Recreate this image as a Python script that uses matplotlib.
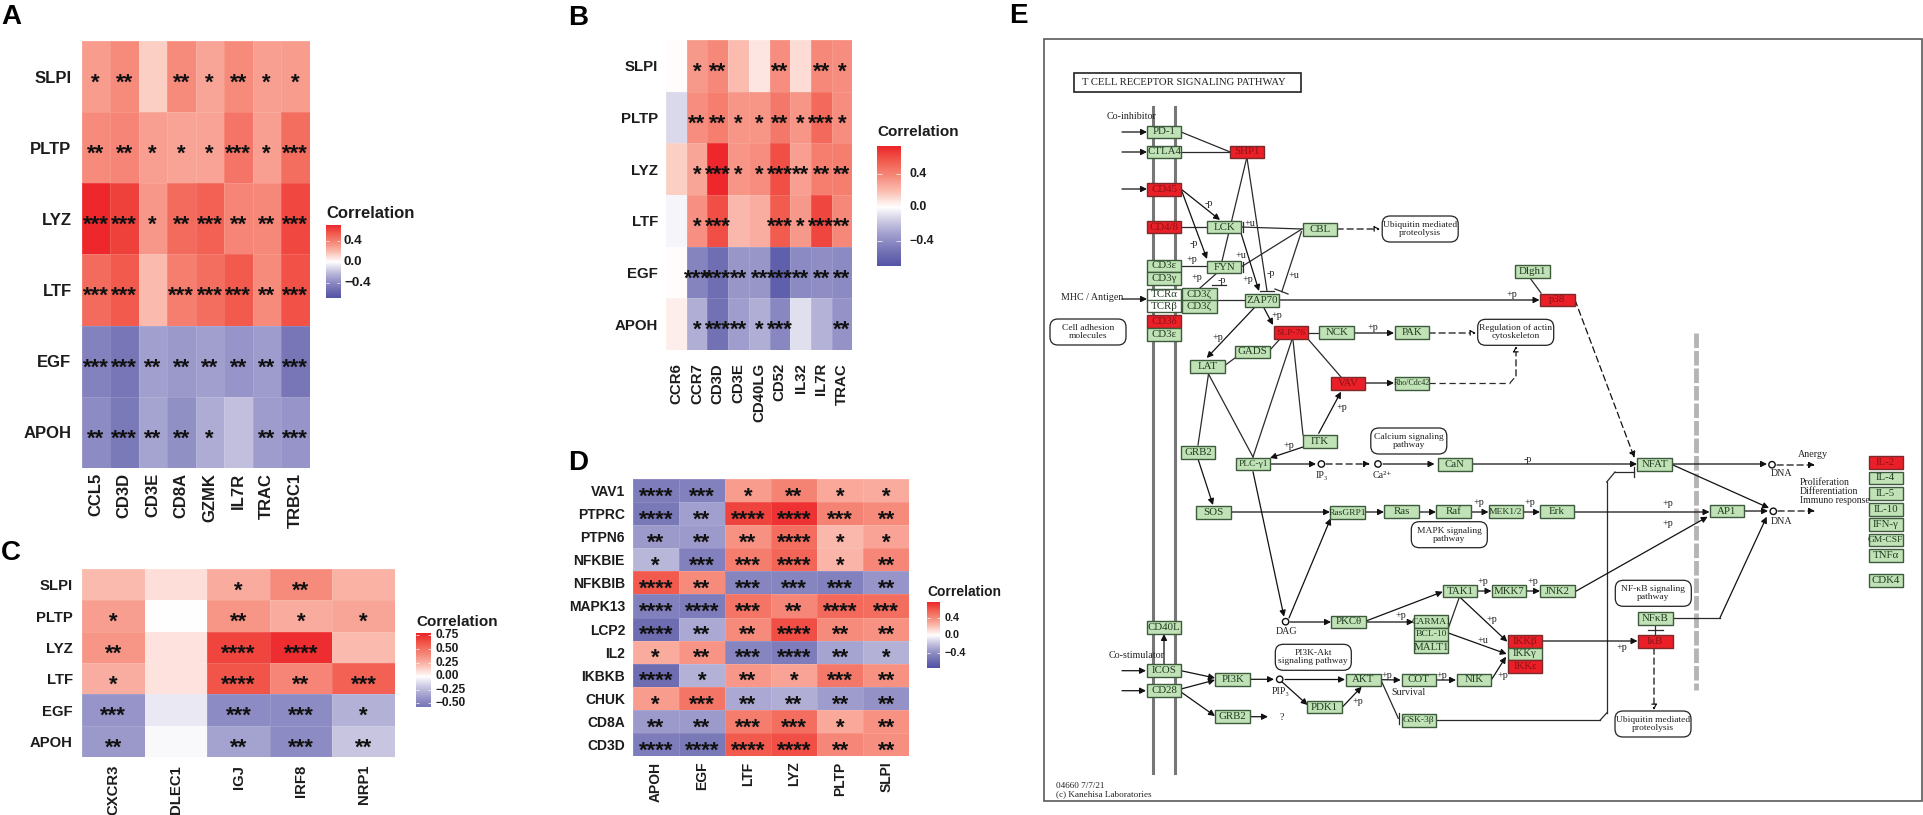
import numpy as np
import matplotlib
matplotlib.use("Agg")
import matplotlib.pyplot as plt
from matplotlib.colors import LinearSegmentedColormap, Normalize
from matplotlib.patches import FancyBboxPatch, Rectangle, Circle

W, H = 1923, 815

# ---- heatmap data (rows top to bottom) ----
a_rows = ["SLPI", "PLTP", "LYZ", "LTF", "EGF", "APOH"]
a_cols = ["CCL5", "CD3D", "CD3E", "CD8A", "GZMK", "IL7R", "TRAC", "TRBC1"]
a_vals = [[.30, .36, .14, .36, .27, .36, .29, .30],
          [.36, .38, .29, .28, .28, .44, .29, .47],
          [.70, .62, .32, .48, .52, .38, .37, .60],
          [.48, .54, .20, .41, .47, .54, .36, .57],
          [-.44, -.50, -.32, -.34, -.32, -.36, -.33, -.50],
          [-.40, -.48, -.30, -.38, -.27, -.20, -.33, -.36]]
a_stars = [[1, 2, 0, 2, 1, 2, 1, 1],
           [2, 2, 1, 1, 1, 3, 1, 3],
           [3, 3, 1, 2, 3, 2, 2, 3],
           [3, 3, 0, 3, 3, 3, 2, 3],
           [3, 3, 2, 2, 2, 2, 2, 3],
           [2, 3, 2, 2, 1, 0, 2, 3]]

b_rows = ["SLPI", "PLTP", "LYZ", "LTF", "EGF", "APOH"]
b_cols = ["CCR6", "CCR7", "CD3D", "CD3E", "CD40LG", "CD52", "IL32", "IL7R", "TRAC"]
b_vals = [[.01, .32, .38, .20, .07, .36, .10, .38, .36],
          [-.12, .36, .42, .33, .33, .44, .33, .50, .36],
          [.14, .28, .72, .33, .36, .60, .30, .42, .42],
          [-.03, .35, .60, .21, .25, .55, .32, .62, .38],
          [.01, -.45, -.55, -.36, -.36, -.64, -.42, -.40, -.42],
          [.05, -.27, -.54, -.33, -.27, -.43, -.10, -.25, -.38]]
b_stars = [[0, 1, 2, 0, 0, 2, 0, 2, 1],
           [0, 2, 2, 1, 1, 2, 1, 3, 1],
           [0, 1, 3, 1, 1, 3, 2, 2, 2],
           [0, 1, 3, 0, 0, 3, 1, 3, 2],
           [0, 3, 3, 2, 2, 3, 2, 2, 2],
           [0, 1, 3, 2, 1, 3, 0, 0, 2]]

c_rows = ["SLPI", "PLTP", "LYZ", "LTF", "EGF", "APOH"]
c_cols = ["CXCR3", "DLEC1", "IGJ", "IRF8", "NRP1"]
c_vals = [[.22, .10, .28, .40, .25],
          [.33, .00, .36, .28, .30],
          [.36, .09, .68, .76, .22],
          [.27, .09, .62, .42, .58],
          [-.40, -.08, -.45, -.45, -.28],
          [-.38, -.02, -.34, -.45, -.20]]
c_stars = [[0, 0, 1, 2, 0],
           [1, 0, 2, 1, 1],
           [2, 0, 4, 4, 0],
           [1, 0, 4, 2, 3],
           [3, 0, 3, 3, 1],
           [2, 0, 2, 3, 2]]

d_rows = ["VAV1", "PTPRC", "PTPN6", "NFKBIE", "NFKBIB", "MAPK13",
          "LCP2", "IL2", "IKBKB", "CHUK", "CD8A", "CD3D"]
d_cols = ["APOH", "EGF", "LTF", "LYZ", "PLTP", "SLPI"]
d_vals = [[-.50, -.48, .32, .42, .28, .27],
          [-.52, -.34, .66, .72, .42, .38],
          [-.36, -.36, .36, .50, .22, .30],
          [-.25, -.48, .44, .54, .23, .40],
          [.58, .38, -.46, -.46, -.48, -.38],
          [-.48, -.50, .48, .40, .52, .50],
          [-.58, -.30, .38, .62, .38, .36],
          [.27, .35, -.46, -.50, -.32, -.27],
          [-.58, -.27, .34, .30, .46, .36],
          [.32, .48, -.30, -.28, -.35, -.40],
          [-.36, -.36, .44, .50, .28, .36],
          [-.50, -.52, .58, .62, .40, .37]]
d_stars = [[4, 3, 1, 2, 1, 1],
           [4, 2, 4, 4, 3, 2],
           [2, 2, 2, 4, 1, 1],
           [1, 3, 3, 4, 1, 2],
           [4, 2, 3, 3, 3, 2],
           [4, 4, 3, 2, 4, 3],
           [4, 2, 2, 4, 2, 2],
           [1, 2, 3, 4, 2, 1],
           [4, 1, 2, 1, 3, 2],
           [1, 3, 2, 2, 2, 2],
           [2, 2, 3, 3, 1, 2],
           [4, 4, 4, 4, 2, 2]]

# ---- pathway diagram (panel E), positions in picture pixels ----
node_names = ["PD-1", "CTLA4", "SHP1", "CD45", "CD4/8", "LCK", "CBL", "CD3ε", "CD3γ", "FYN",
              "CD3ζ", "CD3ζ", "ZAP70", "CD3δ", "CD3ε", "SLP-76", "NCK", "GADS", "LAT", "VAV",
              "PAK", "Rho/Cdc42", "Dlgh1", "p38", "CaN", "NFAT", "Ras", "Raf", "MEK1/2", "Erk",
              "AP1", "ITK", "PLC-γ1", "GRB2", "SOS", "RasGRP1", "PKCθ", "CD40L", "ICOS", "CD28",
              "PI3K", "GRB2", "PDK1", "AKT", "TAK1", "MKK7", "JNK2", "CARMA1", "BCL-10", "MALT1",
              "IKKβ", "IKKγ", "IKKε", "COT", "NIK", "GSK-3β", "NFκB", "IκB",
              "IL-2", "IL-4", "IL-5", "IL-10", "IFN-γ", "GM-CSF", "TNFα", "CDK4"]
node_x = [1164, 1164, 1246.7, 1164, 1164, 1224, 1319.7, 1164, 1164, 1224,
          1199.5, 1199.5, 1261.8, 1164, 1164, 1291, 1336.6, 1252.5, 1207.4, 1348,
          1411.9, 1411.9, 1532.4, 1557.3, 1454.8, 1654.6, 1401.5, 1453.4, 1505.7, 1557,
          1727, 1320, 1253.2, 1198, 1213.6, 1347.6, 1348.3, 1164, 1164, 1164,
          1232.6, 1232.6, 1324.3, 1363.3, 1460, 1509, 1557.3, 1431, 1431, 1431,
          1525, 1525, 1525, 1418.7, 1474, 1418.7, 1655.3, 1655.3,
          1885.7, 1885.7, 1885.7, 1885.7, 1885.7, 1885.7, 1885.7, 1885.7]
node_y = [132, 152, 152, 189.3, 227, 227, 229.3, 266, 278.3, 267,
          294.7, 306.3, 300.3, 321.7, 334.3, 332.7, 332.7, 352, 366.7, 383.3,
          332.7, 383.3, 271.7, 300, 464.3, 464.3, 511.7, 511.7, 511.7, 511.7,
          511, 441.7, 464, 452.3, 512.3, 512.7, 622, 627.7, 670.7, 690.7,
          679.3, 716.7, 707, 680, 591, 591, 591, 621.7, 634.3, 647,
          641.3, 654, 666.7, 680, 680, 720.3, 618.3, 641.3,
          462.3, 478, 493.3, 509.3, 524.3, 540, 555.3, 580.7]
red_nodes = ["SHP1", "CD45", "CD4/8", "CD3δ", "SLP-76", "VAV", "p38", "IKKβ", "IKKε", "IκB", "IL-2"]
tcr_names = ["TCRα", "TCRβ"]
tcr_y = [294.7, 306.3]

# x1, y1, x2, y2
arrows = [(1122, 132, 1147, 132), (1122, 152, 1147, 152), (1122, 189, 1147, 189),
          (1181, 189, 1220, 220), (1181, 189, 1207, 259), (1241, 233, 1259, 291),
          (1122, 299, 1147, 299), (1279, 300, 1539.5, 300), (1263.5, 307, 1273, 325),
          (1255, 307, 1206.7, 358), (1353.8, 333, 1394, 333), (1318.7, 433.3, 1341, 391.7),
          (1365, 383, 1394, 383), (1303, 447, 1270, 458), (1270, 464, 1316, 464),
          (1383, 464, 1434.5, 464), (1470, 464, 1637, 464), (1198, 459, 1213, 505),
          (1231, 512, 1330, 512), (1365, 512, 1384, 512), (1418.5, 512, 1436, 512),
          (1470.5, 512, 1488.5, 512), (1523, 512, 1540, 512), (1574, 512, 1709.5, 512),
          (1575, 591.7, 1707.7, 516.7), (1745, 511, 1768, 511), (1672, 464, 1767, 464),
          (1673, 465, 1769, 508), (1542, 641, 1637.5, 641), (1253, 471.7, 1284, 616.7),
          (1289, 618, 1330.7, 518.3), (1290, 622, 1331, 622), (1366, 621, 1442.7, 591.7),
          (1366, 622, 1413.7, 622), (1477, 591, 1491.5, 591), (1526.5, 591, 1540, 591),
          (1460, 597.3, 1507.3, 641.7), (1448.3, 633, 1506.7, 654), (1491.7, 679.3, 1506, 656.7),
          (1381, 679.7, 1400.7, 680), (1436.7, 680, 1456, 680), (1342.7, 706.7, 1361.7, 686.7),
          (1250.8, 679.3, 1274, 679.3), (1285, 679.5, 1345, 679.5), (1281.8, 681.7, 1307.6, 705),
          (1181, 670.7, 1215, 678), (1181, 689, 1215, 680), (1181, 692, 1215, 716),
          (1250.8, 716.7, 1268, 716.7), (1164, 664, 1164, 634), (1122, 670.7, 1146, 670.7),
          (1122, 690.7, 1146, 690.7), (1720, 617.7, 1766.7, 516.7)]
lines = [(1181, 132, 1229.5, 151.7), (1181, 152, 1229.5, 152), (1246.7, 158, 1222, 261),
         (1247, 158, 1267, 291), (1181, 227, 1207, 227), (1241, 227, 1302, 229),
         (1241, 267, 1302, 229), (1181, 266, 1207, 266), (1217, 273, 1200, 288),
         (1301.4, 231.7, 1281.8, 291.7), (1216, 300, 1245, 300), (1530, 278, 1541, 293),
         (1308, 333, 1320, 333), (1279, 340, 1270, 350), (1235, 358, 1224, 366),
         (1308, 339, 1341, 377), (1291.8, 340, 1253, 457), (1293, 340, 1303, 435),
         (1208.5, 374, 1198, 445), (1208.5, 374, 1253, 457), (1459.3, 597.3, 1448.3, 628.3),
         (1381.7, 681.7, 1398.3, 718.3), (1673, 617.7, 1720, 617.7), (1655, 625, 1655, 635),
         (1436, 720.3, 1600, 720.3), (1600, 720.3, 1606.7, 713), (1606.7, 713, 1606.7, 482),
         (1606.7, 482, 1615, 472), (1615, 472, 1634, 472),
         # T bars
         (1243, 222, 1243, 232), (1243, 262, 1243, 272), (1212, 285, 1226, 285),
         (1260, 291, 1274, 291), (1275, 289, 1288, 294), (1648, 630, 1663, 630),
         (1398.7, 713, 1398.7, 724), (1634, 466.7, 1634, 476.7)]
dash_arrows = [(1575, 300, 1634.5, 458), (1326, 464, 1370, 464), (1778, 511, 1815, 511),
               (1777, 465, 1815, 465)]
open_arrows = [(1337, 229, 1380, 229), (1429, 333, 1476, 333), (1516, 376, 1516, 346),
               (1654, 648, 1654, 710)]
dash_lines = [(1429, 383, 1510, 383), (1510, 383, 1516, 376)]
circle_x = [1321.4, 1378, 1285.6, 1279.7, 1773.3, 1772]
circle_y = [464, 464, 621.7, 679.3, 511.3, 464.7]

round_text = ["Cell adhesion\nmolecules", "Ubiquitin mediated\nproteolysis", "Regulation of actin\ncytoskeleton",
              "Calcium signaling\npathway", "MAPK signaling\npathway", "PI3K-Akt\nsignaling pathway",
              "NF-κB signaling\npathway", "Ubiquitin mediated\nproteolysis"]
round_x = [1088, 1420.2, 1515.7, 1408.8, 1449.3, 1313.3, 1653.3, 1653]
round_y = [332, 229, 332.3, 441, 534.7, 657.3, 593.3, 724]

small_text = ["-p", "-p", "+u", "+u", "+p", "+p", "-p", "+p", "-p", "+u", "+p", "+p", "+p", "+p", "+p",
              "+p", "-p", "+p", "+p", "+p", "+p", "+p", "+p", "+p", "+p", "+u", "+p", "+p", "+p", "+p", "+p",
              "IP₃", "Ca²⁺", "DAG", "PIP₃", "DNA", "DNA", "?", "Survival",
              "Co-inhibitor", "Co-stimulator", "MHC / Antigen", "Anergy"]
small_x = [1208.5, 1193.6, 1249.8, 1240.5, 1192, 1196.7, 1222, 1248, 1270.4, 1294, 1511.6, 1276.6, 1217.8,
           1372.7, 1342, 1288.5, 1527.9, 1479, 1530, 1667.7, 1667.7, 1621.7, 1400.7, 1483.3, 1533, 1483.3,
           1492.3, 1502.7, 1387.3, 1442.3, 1357.7,
           1322, 1382, 1286.3, 1280.8, 1782, 1782, 1281.5, 1408.3,
           1132, 1136.8, 1092.4, 1813]
small_y = [204, 244, 223, 256, 260, 277, 280.7, 279, 274, 276, 294.3, 315.7, 338,
           327, 408, 445.7, 459.3, 502.7, 502.7, 503.3, 524, 647.7, 616, 581.7, 581.7, 640.7,
           619, 676, 675, 675, 701.7,
           475.7, 475.7, 632, 692, 521.3, 474, 717, 692.3,
           116.7, 655, 298, 454.7]

colors = ["#4e4ea4", "#6f6eb2", "#9694c8", "#c6c4e0", "#ffffff", "#fbc0b4", "#f68b7c", "#f25c4e", "#ec2228"]
cmap = LinearSegmentedColormap.from_list("corr", colors)
text_col = "#1c1c1c"
plt.rcParams["font.family"] = ["Liberation Sans", "DejaVu Sans"]

fig = plt.figure(figsize=(W / 100, H / 100), dpi=100)


def px_axes(x0, y0, x1, y1):
    return fig.add_axes([x0 / W, 1 - y1 / H, (x1 - x0) / W, (y1 - y0) / H])


def heat(box, rows, cols, vals, stars, vmax, fs, xpad, ypad):
    ax = px_axes(*box)
    vals = np.array(vals)
    ax.pcolormesh(vals, cmap=cmap, norm=Normalize(-vmax, vmax),
                  edgecolors=(1, 1, 1, 0.12), linewidth=0.5)
    ax.set_xlim(0, len(cols))
    ax.set_ylim(len(rows), 0)
    ax.set_xticks(np.arange(len(cols)) + 0.5)
    ax.set_yticks(np.arange(len(rows)) + 0.5)
    ax.set_xticklabels(cols, rotation=90, ha="center", va="top", fontsize=fs, fontweight="bold", color=text_col)
    ax.set_yticklabels(rows, fontsize=fs, fontweight="bold", color=text_col)
    ax.tick_params(axis="x", length=0, pad=xpad * 0.72)
    ax.tick_params(axis="y", length=0, pad=ypad * 0.72)
    for s in ax.spines.values():
        s.set_visible(False)
    # the asterisk sits high in its glyph, so anchor it on the baseline
    row_h = (box[3] - box[1]) / len(rows)
    for i in range(len(rows)):
        for j in range(len(cols)):
            if stars[i][j]:
                ax.text(j + 0.5, i + 0.5 + 12 / row_h, "*" * stars[i][j], ha="center", va="baseline",
                        fontsize=16, fontweight="bold", color="#111111")
    return ax


def legend(box, lo, hi, vmax, ticks, labels, title_y, label_x, fs, tick_fs):
    cax = px_axes(*box)
    grad = np.linspace(hi, lo, 256).reshape(-1, 1)
    cax.imshow(grad, cmap=cmap, norm=Normalize(-vmax, vmax), aspect="auto", extent=[0, 1, lo, hi])
    cax.set_xticks([])
    cax.set_yticks([])
    for s in cax.spines.values():
        s.set_visible(False)
    cax.hlines(ticks, 0, 0.2, color="white", lw=0.5)
    cax.hlines(ticks, 0.8, 1, color="white", lw=0.5)
    for t, lab in zip(ticks, labels):
        y = box[3] - (t - lo) / (hi - lo) * (box[3] - box[1])
        fig.text(label_x / W, 1 - y / H, lab, fontsize=tick_fs, fontweight="bold", va="center", color=text_col)
    fig.text(box[0] / W, 1 - title_y / H, "Correlation", fontsize=fs, fontweight="bold", va="center", color=text_col)


heat((81.5, 41, 309.5, 468), a_rows, a_cols, a_vals, a_stars, 0.72, 12, 5, 10)
legend((326, 225, 340, 298), -0.69, 0.70, 0.72, [-0.4, 0, 0.4], ["−0.4", "0.0", "0.4"], 213, 344, 12, 9.7)

heat((666, 40, 852.3, 350), b_rows, b_cols, b_vals, b_stars, 0.74, 10.8, 13, 8)
legend((877, 146, 901, 266), -0.70, 0.73, 0.74, [-0.4, 0, 0.4], ["−0.4", "0.0", "0.4"], 132, 909, 11, 8.9)

heat((82, 569, 395, 757), c_rows, c_cols, c_vals, c_stars, 0.80, 10.7, 8, 9)
legend((416, 632.7, 431, 706.7), -0.56, 0.80, 0.80, [-0.5, -0.25, 0, 0.25, 0.5, 0.75],
       ["−0.50", "−0.25", "0.00", "0.25", "0.50", "0.75"], 621.7, 435, 11, 8.6)

heat((632.7, 479, 909.3, 756), d_rows, d_cols, d_vals, d_stars, 0.77, 10, 5.7, 7.7)
legend((927, 601.7, 940, 668), -0.75, 0.77, 0.77, [-0.4, 0, 0.4], ["−0.4", "0.0", "0.4"], 591.7, 944.3, 10, 7.8)

for letter, lx, ly in zip("ABCDE", [1, 567.7, 1, 568, 1008.7], [24, 25, 560, 470, 23]):
    fig.text(lx / W, 1 - ly / H, letter, fontsize=20, fontweight="bold", color="black", va="baseline")

# panel E on one big axes in pixel units
ax = fig.add_axes([0, 0, 1, 1], zorder=5)
ax.set_xlim(0, W)
ax.set_ylim(H, 0)
ax.axis("off")
ax.patch.set_alpha(0)

serif = ["Liberation Serif", "DejaVu Serif"]
lc = "#2a2a2a"

ax.add_patch(Rectangle((1044, 39.3), 877.7, 761.4, fc="none", ec="#5a5a5a", lw=1.2))
ax.add_patch(Rectangle((1074, 72.7), 226.7, 19, fc="white", ec="#222222", lw=1.2))
ax.text(1082, 82.2, "T CELL RECEPTOR SIGNALING PATHWAY", family=serif, fontsize=7.7, va="center", color="#222222")
ax.text(1055.6, 790, "04660 7/7/21\n(c) Kanehisa Laboratories", family=serif, fontsize=6.6, va="center",
        color="#222222", linespacing=0.95)

ax.plot([1153.4, 1153.4], [107, 773], color="#777777", lw=2.2, zorder=1)
ax.plot([1174.7, 1174.7], [107, 773], color="#777777", lw=2.2, zorder=1)
ax.plot([1695.7, 1695.7], [333, 690], color="#b5b5b5", lw=3.5, ls=(0, (3, 0.6)), zorder=1)

for x1, y1, x2, y2 in lines:
    ax.plot([x1, x2], [y1, y2], color=lc, lw=0.9, zorder=2)
for x1, y1, x2, y2 in dash_lines:
    ax.plot([x1, x2], [y1, y2], color=lc, lw=0.9, ls=(0, (5, 3)), zorder=2)
for x1, y1, x2, y2 in arrows:
    ax.annotate("", xy=(x2, y2), xytext=(x1, y1), zorder=2,
                arrowprops=dict(arrowstyle="-|>", color="#111111", lw=0.9, mutation_scale=9, shrinkA=0, shrinkB=0))
for x1, y1, x2, y2 in dash_arrows:
    ax.annotate("", xy=(x2, y2), xytext=(x1, y1), zorder=2,
                arrowprops=dict(arrowstyle="-|>", color="#111111", lw=0.9, ls=(0, (5, 3)), mutation_scale=9,
                                shrinkA=0, shrinkB=0))
for x1, y1, x2, y2 in open_arrows:
    ax.annotate("", xy=(x2, y2), xytext=(x1, y1), zorder=2,
                arrowprops=dict(arrowstyle="-|>", ec="#111111", fc="white", lw=0.9, ls=(0, (5, 3)),
                                mutation_scale=8, shrinkA=0, shrinkB=0))
for x, y in zip(circle_x, circle_y):
    ax.add_patch(Circle((x, y), 3.2, fc="white", ec="#111111", lw=1, zorder=3))

for name, x, y in zip(node_names, node_x, node_y):
    red = name in red_nodes
    size = 7.8
    if len(name) >= 8:
        size = 5.8
    elif len(name) >= 6:
        size = 6.8
    ax.add_patch(Rectangle((x - 17.2, y - 6.3), 34.4, 12.6, fc="#ea1f27" if red else "#c0e2b6",
                           ec="#7a2a2a" if red else "#3d5a3d", lw=1, zorder=3))
    ax.text(x, y, name, family=serif, fontsize=size, ha="center", va="center",
            color="#8a1418" if red else "#203a20", zorder=4)
for name, y in zip(tcr_names, tcr_y):
    ax.add_patch(Rectangle((1146.8, y - 6), 34.4, 12, fc="white", ec="#3d5a3d", lw=1, zorder=3))
    ax.text(1164, y, name, family=serif, fontsize=7.8, ha="center", va="center", color="#203a20", zorder=4)

for t, x, y in zip(round_text, round_x, round_y):
    ax.add_patch(FancyBboxPatch((x - 38, y - 13), 76, 26, boxstyle="round,pad=0,rounding_size=8", fc="white",
                                ec="#222222", lw=0.9, zorder=3))
    ax.text(x, y, t, family=serif, fontsize=6.8, ha="center", va="center", color="#222222", linespacing=1.0, zorder=4)

for t, x, y in zip(small_text, small_x, small_y):
    ax.text(x, y, t, family=serif, fontsize=7.2, ha="center", va="center", color="#222222", zorder=4)
ax.text(1800, 491.5, "Proliferation\nDifferentiation\nImmuno response", family=serif, fontsize=7, va="center",
        color="#222222", linespacing=1.0, zorder=4)

fig.savefig("out.png", dpi=100)
